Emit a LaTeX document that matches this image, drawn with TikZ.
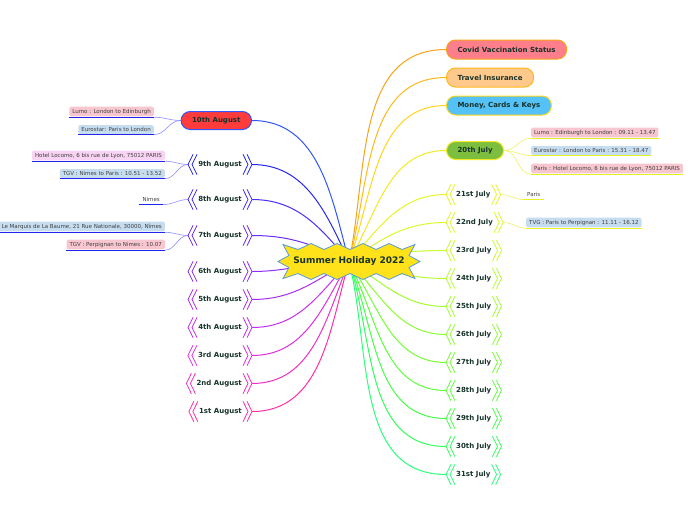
\documentclass[tikz,border=0pt]{standalone}
\usepackage{fontspec}
\setmainfont{DejaVu Sans}
\usetikzlibrary{backgrounds}

\definecolor{ink}{HTML}{17332B}
\definecolor{sunfill}{HTML}{FFE21A}
\definecolor{sunline}{HTML}{5A9BD5}
% right branch colours
\definecolor{covid}{HTML}{F5A31A}
\definecolor{travel}{HTML}{FFB81A}
\definecolor{money}{HTML}{FFD61A}
\definecolor{jul20}{HTML}{F2EA22}
\definecolor{jul21}{HTML}{E6F526}
\definecolor{jul22}{HTML}{DCFA2A}
\definecolor{jul23}{HTML}{C8FC2C}
\definecolor{jul24}{HTML}{B4FD30}
\definecolor{jul25}{HTML}{A0FE30}
\definecolor{jul26}{HTML}{8CFE32}
\definecolor{jul27}{HTML}{74FE36}
\definecolor{jul28}{HTML}{5CFF3C}
\definecolor{jul29}{HTML}{44FF48}
\definecolor{jul30}{HTML}{32FF5A}
\definecolor{jul31}{HTML}{2CFF7A}
% left branch colours
\definecolor{aug10}{HTML}{2F55FF}
\definecolor{aug9}{HTML}{2626F0}
\definecolor{aug8}{HTML}{4A2EF5}
\definecolor{aug7}{HTML}{6A2EF5}
\definecolor{aug6}{HTML}{8E2EF2}
\definecolor{aug5}{HTML}{AA2EF2}
\definecolor{aug4}{HTML}{C42EEE}
\definecolor{aug3}{HTML}{E02EE0}
\definecolor{aug2}{HTML}{F02EC4}
\definecolor{aug1}{HTML}{FF2EA6}
% boxes
\definecolor{pinkbox}{HTML}{F7C6CF}
\definecolor{bluebox}{HTML}{C6DDF0}
\definecolor{rosebox}{HTML}{F8D3F3}
\definecolor{lefttwig}{HTML}{8C8CFF}
\definecolor{righttwig}{HTML}{F0F060}
\definecolor{leftline}{HTML}{2024EE}
\definecolor{rightline}{HTML}{E8F020}

\tikzset{
    pill/.style={draw=#1, line width=1pt, rounded corners=9pt, minimum height=19pt,
        inner xsep=11pt, font=\bfseries\fontsize{7}{8}\selectfont, text=ink},
    day/.style={minimum height=20pt, inner xsep=10pt, inner ysep=0pt,
        font=\bfseries\fontsize{7}{8}\selectfont, text=ink},
    leaf/.style={fill=#1, rounded corners=1.5pt, inner xsep=3pt, inner ysep=2.2pt,
        font=\fontsize{5.5}{6}\selectfont, text=black!75},
    uline/.style={append after command={([yshift=-.6pt]\tikzlastnode.south west)
        edge[draw=#1, line width=1.3pt, sharp corners] ([yshift=-.6pt]\tikzlastnode.south east)}},
    branch/.style={draw=#1, line width=1pt},
    twig/.style={draw=#1, line width=.6pt},
}

\begin{document}
\begin{tikzpicture}[x=1pt, y=-1pt]
    \useasboundingbox (0,-1.5) rectangle (696,518.5);

    % hub
    \node[inner sep=1pt, font=\bfseries\fontsize{9}{11}\selectfont, text=ink]
        (hub) at (349,260) {Summer Holiday 2022};

    % right side
    \node[pill=covid, fill={rgb,255:red,255;green,126;blue,139}, anchor=west] (vacc) at (446,48) {Covid Vaccination Status};
    \node[pill=travel, fill={rgb,255:red,255;green,201;blue,139}, anchor=west] (insur) at (446,76) {Travel Insurance};
    \node[pill=money, fill={rgb,255:red,85;green,194;blue,247}, anchor=west] (cash) at (446,104) {Money, Cards \& Keys};
    \node[pill=jul20, fill={rgb,255:red,125;green,190;blue,62}, anchor=west, minimum height=18pt] (j20) at (446,149) {20th July};
    \node[day, anchor=west] (j21) at (446,193) {21st July};
    \node[day, anchor=west] (j22) at (446,221) {22nd July};
    \node[day, anchor=west] (j23) at (446,249) {23rd July};
    \node[day, anchor=west] (j24) at (446,277) {24th July};
    \node[day, anchor=west] (j25) at (446,305) {25th July};
    \node[day, anchor=west] (j26) at (446,333) {26th July};
    \node[day, anchor=west] (j27) at (446,361) {27th July};
    \node[day, anchor=west] (j28) at (446,389) {28th July};
    \node[day, anchor=west] (j29) at (446,417) {29th July};
    \node[day, anchor=west] (j30) at (446,445) {30th July};
    \node[day, anchor=west] (j31) at (446,473) {31st July};

    \node[leaf=pinkbox, uline=rightline, anchor=west] (lumoR) at (531,131) {Lumo : Edinburgh to London : 09.11 - 13.47};
    \node[leaf=bluebox, uline=rightline, anchor=west] (euroR) at (531,149) {Eurostar : London to Paris : 15.31 - 18.47};
    \node[leaf=pinkbox, uline=rightline, anchor=west] (hotelR) at (531,167) {Paris : Hotel Locomo, 6 bis rue de Lyon, 75012 PARIS};
    \node[leaf=white, uline=rightline, anchor=west] (paris) at (524,193) {Paris};
    \node[leaf=bluebox, uline=rightline, anchor=west] (tvg) at (526,221) {TVG : Paris to Perpignan : 11.11 - 16.12};

    % left side
    \node[pill=aug10, fill={rgb,255:red,255;green,59;blue,59}, anchor=east, minimum height=18pt] (a10) at (252,119) {10th August};
    \node[day, anchor=east] (a9) at (252,163) {9th August};
    \node[day, anchor=east] (a8) at (252,198) {8th August};
    \node[day, anchor=east] (a7) at (252,234) {7th August};
    \node[day, anchor=east] (a6) at (252,270) {6th August};
    \node[day, anchor=east] (a5) at (252,298) {5th August};
    \node[day, anchor=east] (a4) at (252,326) {4th August};
    \node[day, anchor=east] (a3) at (252,354) {3rd August};
    \node[day, anchor=east] (a2) at (252,382) {2nd August};
    \node[day, anchor=east] (a1) at (252,410) {1st August};

    \node[leaf=pinkbox, uline=leftline, anchor=east] (lumoL) at (154,110) {Lumo : London to Edinburgh};
    \node[leaf=bluebox, uline=leftline, anchor=east] (euroL) at (154,128) {Eurostar: Paris to London};
    \node[leaf=rosebox, uline=leftline, anchor=east] (hotelL) at (165,154) {Hotel Locomo, 6 bis rue de Lyon, 75012 PARIS};
    \node[leaf=bluebox, uline=leftline, anchor=east] (tgvA) at (165,172) {TGV : Nimes to Paris : 10.51 - 13.52};
    \node[leaf=white, uline=leftline, anchor=east] (nimes) at (163,198) {Nimes};
    \node[leaf=bluebox, uline=leftline, anchor=east] (marquis) at (165,225) {Le Marquis de La Baume, 21 Rue Nationale, 30000, Nîmes};
    \node[leaf=pinkbox, uline=leftline, anchor=east] (tgvB) at (165,243) {TGV : Perpignan to Nimes : 10.07};

    % chevrons round the day nodes
    \foreach \n/\c in {j21/jul21, j22/jul22, j23/jul23, j24/jul24, j25/jul25, j26/jul26,
        j27/jul27, j28/jul28, j29/jul29, j30/jul30, j31/jul31, a9/aug9, a8/aug8, a7/aug7,
        a6/aug6, a5/aug5, a4/aug4, a3/aug3, a2/aug2, a1/aug1} {
        \draw[\c, line width=.8pt]
            ([xshift=5pt]\n.north west) -- (\n.west) -- ([xshift=5pt]\n.south west)
            ([xshift=9pt]\n.north west) -- ([xshift=4pt]\n.west) -- ([xshift=9pt]\n.south west)
            ([xshift=-5pt]\n.north east) -- (\n.east) -- ([xshift=-5pt]\n.south east)
            ([xshift=-9pt]\n.north east) -- ([xshift=-4pt]\n.east) -- ([xshift=-9pt]\n.south east);
    }

    \begin{scope}[on background layer]
        % hub to right nodes
        \draw[branch=covid] (hub.center) to[out=78, in=180] (vacc.west);
        \draw[branch=travel] (hub.center) to[out=75, in=180] (insur.west);
        \draw[branch=money] (hub.center) to[out=70, in=180] (cash.west);
        \draw[branch=jul20] (hub.center) to[out=60, in=180] (j20.west);
        \draw[branch=jul21] (hub.center) to[out=48, in=180] (j21.west);
        \draw[branch=jul22] (hub.center) to[out=35, in=180] (j22.west);
        \draw[branch=jul23] (hub.center) to[out=12, in=180] (j23.west);
        \draw[branch=jul24] (hub.center) to[out=-12, in=180] (j24.west);
        \draw[branch=jul25] (hub.center) to[out=-32, in=180] (j25.west);
        \draw[branch=jul26] (hub.center) to[out=-46, in=180] (j26.west);
        \draw[branch=jul27] (hub.center) to[out=-56, in=180] (j27.west);
        \draw[branch=jul28] (hub.center) to[out=-63, in=180] (j28.west);
        \draw[branch=jul29] (hub.center) to[out=-68, in=180] (j29.west);
        \draw[branch=jul30] (hub.center) to[out=-72, in=180] (j30.west);
        \draw[branch=jul31] (hub.center) to[out=-76, in=180] (j31.west);
        % hub to left nodes
        \draw[branch=aug10] (hub.center) to[out=105, in=0] (a10.east);
        \draw[branch=aug9] (hub.center) to[out=115, in=0] (a9.east);
        \draw[branch=aug8] (hub.center) to[out=130, in=0] (a8.east);
        \draw[branch=aug7] (hub.center) to[out=155, in=0] (a7.east);
        \draw[branch=aug6] (hub.center) to[out=180, in=0] (a6.east);
        \draw[branch=aug5] (hub.center) to[out=210, in=0] (a5.east);
        \draw[branch=aug4] (hub.center) to[out=228, in=0] (a4.east);
        \draw[branch=aug3] (hub.center) to[out=240, in=0] (a3.east);
        \draw[branch=aug2] (hub.center) to[out=248, in=0] (a2.east);
        \draw[branch=aug1] (hub.center) to[out=254, in=0] (a1.east);
        % day nodes to their notes
        \draw[twig=righttwig] (j20.east) to[out=0, in=180] ([yshift=-.6pt]lumoR.south west);
        \draw[twig=righttwig] (j20.east) to[out=0, in=180] ([yshift=-.6pt]euroR.south west);
        \draw[twig=righttwig] (j20.east) to[out=0, in=180] ([yshift=-.6pt]hotelR.south west);
        \draw[twig=righttwig] (j21.east) to[out=0, in=180] ([yshift=-.6pt]paris.south west);
        \draw[twig=righttwig] (j22.east) to[out=0, in=180] ([yshift=-.6pt]tvg.south west);
        \draw[twig=lefttwig] (a10.west) to[out=180, in=0] ([yshift=-.6pt]lumoL.south east);
        \draw[twig=lefttwig] (a10.west) to[out=180, in=0] ([yshift=-.6pt]euroL.south east);
        \draw[twig=lefttwig] (a9.west) to[out=180, in=0] ([yshift=-.6pt]hotelL.south east);
        \draw[twig=lefttwig] (a9.west) to[out=180, in=0] ([yshift=-.6pt]tgvA.south east);
        \draw[twig=lefttwig] (a8.west) to[out=180, in=0] ([yshift=-.6pt]nimes.south east);
        \draw[twig=lefttwig] (a7.west) to[out=180, in=0] ([yshift=-.6pt]marquis.south east);
        \draw[twig=lefttwig] (a7.west) to[out=180, in=0] ([yshift=-.6pt]tgvB.south east);
        % zigzag seal behind the hub text
        \draw[fill=sunfill, draw=sunline, line width=.8pt, line join=miter, shift={(hub.center)}]
            (-71,0) -- (-60,-6) -- (-66,-17) -- (-51,-12) -- (-38,-18) -- (-25,-12)
            -- (-12,-18) -- (1,-12) -- (14,-18) -- (27,-12) -- (40,-18) -- (53,-12)
            -- (66,-17) -- (60,-6) -- (71,0) -- (60,6) -- (66,17) -- (53,12)
            -- (40,18) -- (27,12) -- (14,18) -- (1,12) -- (-12,18) -- (-25,12)
            -- (-38,18) -- (-51,12) -- (-66,17) -- (-60,6) -- cycle;
    \end{scope}
\end{tikzpicture}
\end{document}
